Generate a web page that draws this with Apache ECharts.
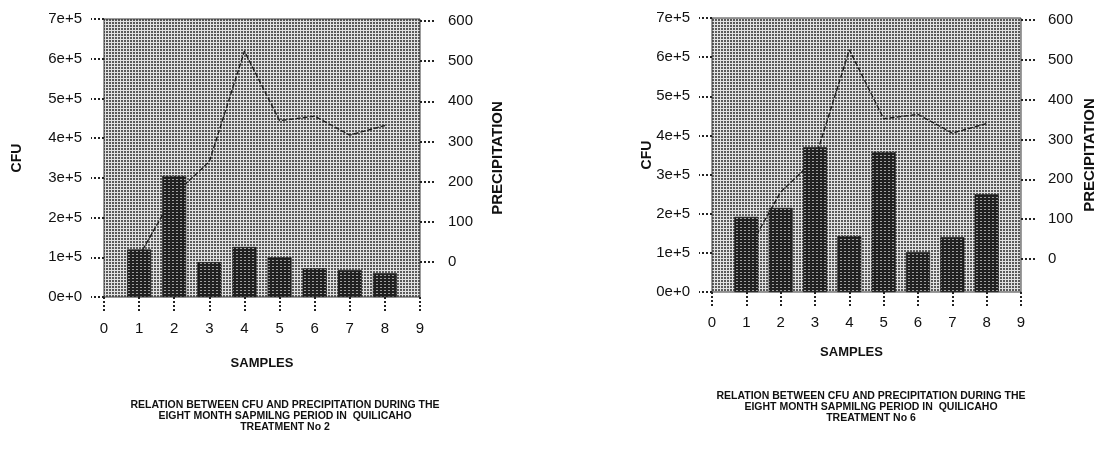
<!DOCTYPE html>
<html>
<head>
<meta charset="utf-8">
<script src="https://cdn.jsdelivr.net/npm/echarts@6/dist/echarts.min.js"></script>
<style>
  html, body { margin: 0; padding: 0; background: #ffffff; }
  #chart { width: 1102px; height: 451px; }
</style>
</head>
<body>
<div id="chart"></div>
<script>
// Sample numbers along the x axis
const samples = [1, 2, 3, 4, 5, 6, 7, 8];
// Colony forming units per sample, treatment No 2 and No 6
const cfuTreatment2 = [120000, 305000, 88000, 126000, 100000, 72000, 68000, 60000];
const cfuTreatment6 = [192000, 215000, 370000, 143000, 358000, 102000, 140000, 250000];
// Monthly precipitation during the sampling period
const precipitation = [15, 168, 250, 525, 352, 363, 316, 340];

// Tick labels
const sampleTicks = [0, 1, 2, 3, 4, 5, 6, 7, 8, 9];
const cfuTickLabels = ['0e+0', '1e+5', '2e+5', '3e+5', '4e+5', '5e+5', '6e+5', '7e+5'];
const precipTicks = [0, 100, 200, 300, 400, 500, 600];

const titleTreatment2 = 'RELATION BETWEEN CFU AND PRECIPITATION DURING THE\nEIGHT MONTH SAPMILNG PERIOD IN  QUILICAHO\nTREATMENT No 2';
const titleTreatment6 = 'RELATION BETWEEN CFU AND PRECIPITATION DURING THE\nEIGHT MONTH SAPMILNG PERIOD IN  QUILICAHO\nTREATMENT No 6';

const FONT = '"Liberation Sans", Arial, Helvetica, sans-serif';
const INK = '#111111';

// Small repeating fills giving the screened-print texture
function makePattern(w, h, base, light, cells) {
  const c = document.createElement('canvas');
  c.width = w; c.height = h;
  const g = c.getContext('2d');
  g.fillStyle = base;
  g.fillRect(0, 0, w, h);
  g.fillStyle = light;
  cells.forEach(([x, y]) => g.fillRect(x, y, 1, 1));
  return { image: c, repeat: 'repeat' };
}
const plotFill = makePattern(3, 3, '#5a5a5a', '#e2e2e2',
  [[0, 0], [1, 0], [2, 0], [0, 1], [0, 2]]);
const barFill = makePattern(4, 3, '#202020', '#a0a0a0', [[0, 2], [1, 2]]);

const tickStyle = { color: '#222', width: 2, type: 'dotted' };

function panel(i, cfu, p) {
  const grid = {
    left: p.left, top: p.top, width: p.width, height: p.height,
    show: true, backgroundColor: plotFill, borderColor: '#3a3a3a', borderWidth: 1
  };
  const xAxis = {
    gridIndex: i, type: 'value', min: 0, max: 9, interval: 1,
    axisLine: { show: false },
    axisTick: { show: true, length: 14, lineStyle: tickStyle },
    axisLabel: {
      margin: p.xLabelMargin, fontSize: 15, color: INK, fontFamily: FONT,
      formatter: v => String(sampleTicks[Math.round(v)])
    },
    splitLine: { show: false },
    name: 'SAMPLES', nameLocation: 'middle', nameGap: p.xNameGap, nameMoveOverlap: false,
    nameTextStyle: {
      fontSize: 13, fontWeight: 'bold', color: INK, fontFamily: FONT,
      padding: p.xNamePadding
    }
  };
  const yLeft = {
    gridIndex: i, type: 'value', position: 'left', min: 0, max: 700000, interval: 100000,
    axisLine: { show: false },
    axisTick: { show: true, length: 13, lineStyle: tickStyle },
    axisLabel: {
      margin: p.yLabelMargin, fontSize: 15, color: INK, fontFamily: FONT,
      formatter: v => cfuTickLabels[Math.round(v / 100000)]
    },
    splitLine: { show: false },
    name: 'CFU', nameLocation: 'middle', nameGap: p.cfuGap, nameRotate: 90,
    nameMoveOverlap: false,
    nameTextStyle: { fontSize: 14, fontWeight: 'bold', color: INK, fontFamily: FONT }
  };
  const yRight = {
    gridIndex: i, type: 'value', position: 'right', min: p.rightMin, max: 605,
    axisLine: { show: false },
    axisTick: { show: true, length: 15, lineStyle: tickStyle, customValues: precipTicks },
    axisLabel: {
      margin: p.rLabelMargin, fontSize: 15, color: INK, fontFamily: FONT,
      customValues: precipTicks
    },
    splitLine: { show: false },
    name: 'PRECIPITATION', nameLocation: 'middle', nameGap: p.precGap, nameRotate: 90,
    nameMoveOverlap: false,
    nameTextStyle: { fontSize: 15, fontWeight: 'bold', color: INK, fontFamily: FONT }
  };
  const bars = {
    type: 'bar', xAxisIndex: i, yAxisIndex: 2 * i,
    data: samples.map((s, k) => [s, cfu[k]]),
    barWidth: 24, z: 3,
    itemStyle: { color: barFill, borderColor: '#1a1a1a', borderWidth: 0.6 }
  };
  const line = {
    type: 'line', xAxisIndex: i, yAxisIndex: 2 * i + 1,
    data: samples.map((s, k) => [s, precipitation[k]]),
    symbol: 'none', z: 2,
    lineStyle: { color: '#1e1e1e', width: 1.4, type: [5, 2] }
  };
  const title = {
    text: p.title, left: p.titleX, top: p.titleY, textAlign: 'center',
    textStyle: {
      fontSize: 10.5, fontWeight: 'bold', color: INK, fontFamily: FONT, lineHeight: 11
    }
  };
  return { grid, xAxis, yAxes: [yLeft, yRight], series: [bars, line], title };
}

const panels = [
  panel(0, cfuTreatment2, {
    left: 104, top: 19, width: 316, height: 278, rightMin: -87,
    xLabelMargin: 24, xNameGap: 60, xNamePadding: [0, 0, 0, 0],
    yLabelMargin: 22, rLabelMargin: 28, cfuGap: 80, precGap: 70,
    title: titleTreatment2, titleX: 280, titleY: 395
  }),
  panel(1, cfuTreatment6, {
    left: 712, top: 18, width: 309, height: 274, rightMin: -83,
    xLabelMargin: 23, xNameGap: 54, xNamePadding: [0, 30, 0, 0],
    yLabelMargin: 22, rLabelMargin: 27, cfuGap: 58, precGap: 61,
    title: titleTreatment6, titleX: 866, titleY: 386
  })
];

const chart = echarts.init(document.getElementById('chart'), null, { renderer: 'canvas' });
chart.setOption({
  animation: false,
  backgroundColor: '#ffffff',
  title: panels.map(p => p.title),
  grid: panels.map(p => p.grid),
  xAxis: panels.map(p => p.xAxis),
  yAxis: panels.flatMap(p => p.yAxes),
  series: panels.flatMap(p => p.series)
});
</script>
</body>
</html>
